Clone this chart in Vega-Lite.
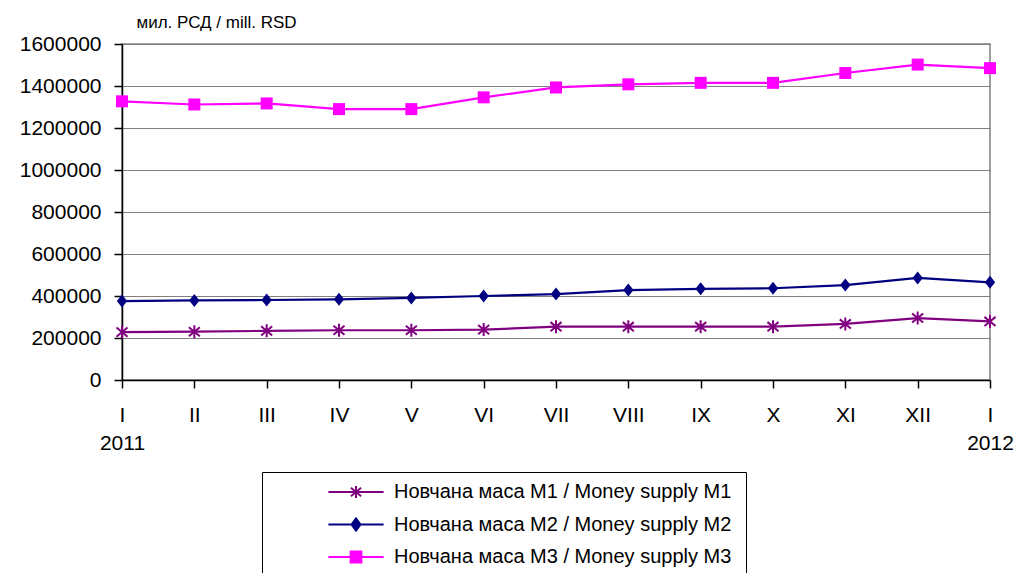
{
  "$schema": "https://vega.github.io/schema/vega-lite/v6.json",
  "autosize": {"type": "none"},
  "width": 868,
  "height": 336,
  "padding": {"left": 122, "top": 44, "right": 29, "bottom": 193},
  "background": "white",
  "config": {
    "font": "Liberation Sans",
    "view": {"stroke": "#808080", "strokeWidth": 1.5},
    "axis": {"labelFont": "Liberation Sans", "labelColor": "black", "domainColor": "black", "tickColor": "black", "domainWidth": 1.5, "tickWidth": 1.5}
  },
  "data": {
    "values": [
      {"m": "I|2011", "s": "Новчана маса М1 / Money supply M1", "v": 228000},
      {"m": "II", "s": "Новчана маса М1 / Money supply M1", "v": 230000},
      {"m": "III", "s": "Новчана маса М1 / Money supply M1", "v": 234000},
      {"m": "IV", "s": "Новчана маса М1 / Money supply M1", "v": 237000},
      {"m": "V", "s": "Новчана маса М1 / Money supply M1", "v": 237000},
      {"m": "VI", "s": "Новчана маса М1 / Money supply M1", "v": 240000},
      {"m": "VII", "s": "Новчана маса М1 / Money supply M1", "v": 254000},
      {"m": "VIII", "s": "Новчана маса М1 / Money supply M1", "v": 254000},
      {"m": "IX", "s": "Новчана маса М1 / Money supply M1", "v": 254000},
      {"m": "X", "s": "Новчана маса М1 / Money supply M1", "v": 254000},
      {"m": "XI", "s": "Новчана маса М1 / Money supply M1", "v": 267000},
      {"m": "XII", "s": "Новчана маса М1 / Money supply M1", "v": 295000},
      {"m": "I|2012", "s": "Новчана маса М1 / Money supply M1", "v": 279000},
      {"m": "I|2011", "s": "Новчана маса М2 / Money supply M2", "v": 376000},
      {"m": "II", "s": "Новчана маса М2 / Money supply M2", "v": 379000},
      {"m": "III", "s": "Новчана маса М2 / Money supply M2", "v": 381000},
      {"m": "IV", "s": "Новчана маса М2 / Money supply M2", "v": 384000},
      {"m": "V", "s": "Новчана маса М2 / Money supply M2", "v": 391000},
      {"m": "VI", "s": "Новчана маса М2 / Money supply M2", "v": 400000},
      {"m": "VII", "s": "Новчана маса М2 / Money supply M2", "v": 409000},
      {"m": "VIII", "s": "Новчана маса М2 / Money supply M2", "v": 428000},
      {"m": "IX", "s": "Новчана маса М2 / Money supply M2", "v": 434000},
      {"m": "X", "s": "Новчана маса М2 / Money supply M2", "v": 437000},
      {"m": "XI", "s": "Новчана маса М2 / Money supply M2", "v": 452000},
      {"m": "XII", "s": "Новчана маса М2 / Money supply M2", "v": 486000},
      {"m": "I|2012", "s": "Новчана маса М2 / Money supply M2", "v": 465000},
      {"m": "I|2011", "s": "Новчана маса М3 / Money supply M3", "v": 1327000},
      {"m": "II", "s": "Новчана маса М3 / Money supply M3", "v": 1312000},
      {"m": "III", "s": "Новчана маса М3 / Money supply M3", "v": 1317000},
      {"m": "IV", "s": "Новчана маса М3 / Money supply M3", "v": 1290000},
      {"m": "V", "s": "Новчана маса М3 / Money supply M3", "v": 1290000},
      {"m": "VI", "s": "Новчана маса М3 / Money supply M3", "v": 1346000},
      {"m": "VII", "s": "Новчана маса М3 / Money supply M3", "v": 1393000},
      {"m": "VIII", "s": "Новчана маса М3 / Money supply M3", "v": 1408000},
      {"m": "IX", "s": "Новчана маса М3 / Money supply M3", "v": 1415000},
      {"m": "X", "s": "Новчана маса М3 / Money supply M3", "v": 1415000},
      {"m": "XI", "s": "Новчана маса М3 / Money supply M3", "v": 1462000},
      {"m": "XII", "s": "Новчана маса М3 / Money supply M3", "v": 1502000},
      {"m": "I|2012", "s": "Новчана маса М3 / Money supply M3", "v": 1485000}
    ]
  },
  "encoding": {
    "x": {
      "field": "m", "type": "ordinal",
      "scale": {"type": "point", "padding": 0, "domain": ["I|2011", "II", "III", "IV", "V", "VI", "VII", "VIII", "IX", "X", "XI", "XII", "I|2012"]},
      "axis": {"title": null, "labelExpr": "split(datum.value, '|')", "labelFontSize": 21, "labelLineHeight": 28, "labelPadding": 16, "tickSize": 8, "labelAngle": 0, "labelBaseline": "top", "labelOverlap": false, "grid": false}
    },
    "y": {
      "field": "v", "type": "quantitative",
      "scale": {"domain": [0, 1600000], "nice": false},
      "axis": {
        "values": [0, 200000, 400000, 600000, 800000, 1000000, 1200000, 1400000, 1600000],
        "format": "d", "labelFontSize": 21, "labelPadding": 13, "tickSize": 8,
        "gridColor": "#808080", "gridWidth": 1.2, "gridOpacity": 1,
        "title": "мил. РСД / mill. RSD", "titleAngle": 0, "titleAlign": "left", "titleBaseline": "alphabetic",
        "titleX": 14, "titleY": -17, "titleFontSize": 17, "titleFontWeight": "normal", "titleColor": "black"
      }
    }
  },
  "layer": [
    {
      "mark": {"type": "line", "strokeWidth": 2.2},
      "encoding": {
        "color": {"field": "s", "type": "nominal", "legend": null,
          "scale": {"range": ["#800080", "#000080", "#FF00FF"]}}
      }
    },
    {
      "transform": [{"filter": "datum.s == 'Новчана маса М1 / Money supply M1'"}],
      "mark": {"type": "point", "filled": false, "opacity": 1, "size": 169, "strokeWidth": 2, "shape": "M0,-1V1M-0.85,-0.7L0.85,0.7M-0.85,0.7L0.85,-0.7"},
      "encoding": {"color": {"field": "s", "type": "nominal", "legend": null}}
    },
    {
      "transform": [{"filter": "datum.s == 'Новчана маса М2 / Money supply M2'"}],
      "mark": {"type": "point", "filled": true, "opacity": 1, "size": 169, "shape": "M-0.8,0L0,-1L0.8,0L0,1Z"},
      "encoding": {"color": {"field": "s", "type": "nominal", "legend": null}}
    },
    {
      "transform": [{"filter": "datum.s == 'Новчана маса М3 / Money supply M3'"}],
      "mark": {"type": "point", "filled": true, "opacity": 1, "size": 144, "shape": "square"},
      "encoding": {"color": {"field": "s", "type": "nominal", "legend": null}}
    },
    {
      "mark": {"type": "point", "filled": true, "size": 144, "strokeWidth": 2},
      "encoding": {
        "opacity": {"condition": {"test": "false", "value": 1}, "value": 0},
        "fill": {"field": "s", "type": "nominal",
          "scale": {"domain": ["Новчана маса М1 / Money supply M1", "Новчана маса М2 / Money supply M2", "Новчана маса М3 / Money supply M3"], "range": ["#800080", "#000080", "#FF00FF"]},
          "legend": {
            "title": "\u00a0\u00a0\u00a0\u00a0\u00a0\u00a0\u00a0\u00a0\u00a0", "titleOrient": "right", "titleFontSize": 20, "titlePadding": 5,
            "orient": "none", "legendX": 140, "legendY": 428,
            "strokeColor": "black", "padding": 10, "fillColor": "white",
            "symbolSize": 144, "symbolStrokeWidth": 2, "symbolOffset": 74, "labelOffset": 28,
            "labelFontSize": 20, "labelColor": "black", "labelLimit": 0, "rowPadding": 12.5
          }},
        "stroke": {"field": "s", "type": "nominal",
          "scale": {"domain": ["Новчана маса М1 / Money supply M1", "Новчана маса М2 / Money supply M2", "Новчана маса М3 / Money supply M3"], "range": ["#800080", "#000080", "#FF00FF"]},
          "legend": {
            "title": "\u00a0\u00a0\u00a0\u00a0\u00a0\u00a0\u00a0\u00a0\u00a0", "titleOrient": "right", "titleFontSize": 20, "titlePadding": 5,
            "orient": "none", "legendX": 140, "legendY": 428,
            "strokeColor": "black", "padding": 10, "fillColor": "white",
            "symbolSize": 144, "symbolStrokeWidth": 2, "symbolOffset": 74, "labelOffset": 28,
            "labelFontSize": 20, "labelColor": "black", "labelLimit": 0, "rowPadding": 12.5
          }},
        "shape": {"field": "s", "type": "nominal",
          "scale": {"domain": ["Новчана маса М1 / Money supply M1", "Новчана маса М2 / Money supply M2", "Новчана маса М3 / Money supply M3"],
            "range": ["M-4.6,0H4.6M0,-1V1M-0.85,-0.7L0.85,0.7M-0.85,0.7L0.85,-0.7", "M-4.6,0H4.6M-0.75,0L0,-1L0.75,0L0,1Z", "M-4.6,0H4.6M-0.9,-0.9H0.9V0.9H-0.9Z"]},
          "legend": {
            "title": "\u00a0\u00a0\u00a0\u00a0\u00a0\u00a0\u00a0\u00a0\u00a0", "titleOrient": "right", "titleFontSize": 20, "titlePadding": 5,
            "orient": "none", "legendX": 140, "legendY": 428,
            "strokeColor": "black", "padding": 10, "fillColor": "white",
            "symbolSize": 144, "symbolStrokeWidth": 2, "symbolOffset": 74, "labelOffset": 28,
            "labelFontSize": 20, "labelColor": "black", "labelLimit": 0, "rowPadding": 12.5
          }}
      }
    }
  ]
}
